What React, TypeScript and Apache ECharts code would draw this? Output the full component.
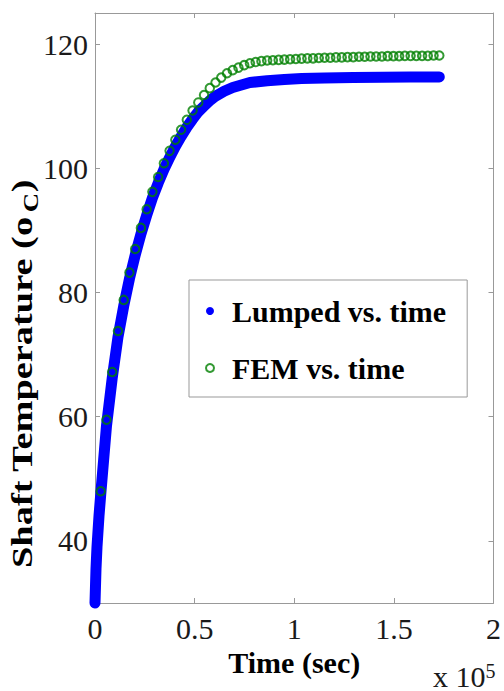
import React, { useEffect, useRef } from "react";
import * as echarts from "echarts";

// Lumped model (time in s, temperature in °C)
const lumpedTime = [0, 500, 1000, 2000, 2880, 4320, 5760, 8640, 11520, 14400, 17280, 20160, 23040, 25920, 28800, 31680, 34560, 37440, 40320, 43200, 46080, 48960, 51840, 54720, 57600, 60480, 64800, 69120, 73440, 77760, 86400, 95040, 103680, 115200, 129600, 144000, 158400, 172800];
const lumpedTemp = [30, 35.5, 39, 44, 47.5, 53, 58.5, 66.2, 72.8, 77.8, 82.2, 86.0, 89.4, 92.4, 95.2, 97.6, 99.8, 101.7, 103.5, 105.1, 106.6, 107.9, 109.1, 110.0, 110.9, 111.6, 112.4, 113.0, 113.4, 113.8, 114.1, 114.3, 114.45, 114.55, 114.6, 114.65, 114.7, 114.7];

// FEM results
const femTime = [2880, 5760, 8640, 11520, 14400, 17280, 20160, 23040, 25920, 28800, 31680, 34560, 37440, 40320, 43200, 46080, 48960, 51840, 54720, 57600, 60480, 63360, 66240, 69120, 72000, 74880, 77760, 80640, 83520, 86400, 89280, 92160, 95040, 97920, 100800, 103680, 106560, 109440, 112320, 115200, 118080, 120960, 123840, 126720, 129600, 132480, 135360, 138240, 141120, 144000, 146880, 149760, 152640, 155520, 158400, 161280, 164160, 167040, 169920, 172800];
const femTemp = [48.0, 59.5, 67.2, 73.8, 78.8, 83.2, 87.0, 90.4, 93.4, 96.2, 98.6, 100.8, 102.8, 104.6, 106.2, 107.8, 109.3, 110.6, 111.8, 112.9, 113.8, 114.6, 115.3, 115.8, 116.2, 116.6, 116.9, 117.1, 117.25, 117.35, 117.4, 117.45, 117.5, 117.55, 117.6, 117.65, 117.7, 117.7, 117.75, 117.8, 117.8, 117.85, 117.85, 117.9, 117.9, 117.95, 117.95, 118.0, 118.0, 118.0, 118.05, 118.05, 118.05, 118.1, 118.1, 118.1, 118.1, 118.1, 118.15, 118.15];

const yTickValues = [40, 60, 80, 100, 120];
const seriesNames = ["Lumped vs. time", "FEM vs. time"];

const FONT = '"Liberation Serif", "Times New Roman", serif';
const AXIS_GRAY = "#999";

export default function App() {
  const ref = useRef<HTMLDivElement>(null);

  useEffect(() => {
    if (!ref.current) return;
    const chart = echarts.init(ref.current, null, { renderer: "svg" });

    const lumpedData = lumpedTime.map((t, i) => [t, lumpedTemp[i]]);
    const femData = femTime.map((t, i) => [t, femTemp[i]]);

    const xCommon = {
      type: "value",
      min: 0,
      max: 200000,
      interval: 50000,
      splitLine: { show: false },
      axisLine: { show: true, onZero: false, lineStyle: { color: AXIS_GRAY, width: 1 } },
      axisTick: { show: true, inside: true, length: 5, lineStyle: { color: AXIS_GRAY } },
    };
    const yCommon = {
      type: "value",
      min: 30,
      max: 125,
      splitLine: { show: false },
      axisLine: { show: true, onZero: false, lineStyle: { color: AXIS_GRAY, width: 1 } },
      axisTick: { show: true, inside: true, length: 5, customValues: yTickValues, lineStyle: { color: AXIS_GRAY } },
    };

    const labelFont = { fontSize: 30, fontWeight: "bold", fontFamily: FONT, fill: "#000", verticalAlign: "middle", align: "left" };

    chart.setOption({
      animation: false,
      backgroundColor: "#fff",
      grid: { left: 95, right: 7, top: 13, bottom: 88, containLabel: false },
      xAxis: [
        {
          ...xCommon,
          position: "bottom",
          axisLabel: {
            formatter: (v: number) => String(v / 1e5),
            fontSize: 30,
            fontFamily: FONT,
            color: "#1a1a1a",
            margin: 10,
          },
          name: "Time (sec)",
          nameLocation: "middle",
          nameGap: 39,
          nameTextStyle: { fontSize: 30, fontWeight: "bold", fontFamily: FONT, color: "#000" },
        },
        { ...xCommon, position: "top", axisLabel: { show: false } },
      ],
      yAxis: [
        {
          ...yCommon,
          position: "left",
          axisLabel: {
            customValues: yTickValues,
            fontSize: 30,
            fontFamily: FONT,
            color: "#1a1a1a",
            margin: 7,
          },
        },
        { ...yCommon, position: "right", axisLabel: { show: false } },
      ],
      legend: {
        orient: "vertical",
        left: 189,
        top: 280,
        padding: [16, 21, 14, 16],
        itemWidth: 34,
        itemHeight: 8,
        itemGap: 27,
        borderColor: AXIS_GRAY,
        borderWidth: 1,
        backgroundColor: "#fff",
        textStyle: { fontSize: 30, fontWeight: "bold", fontFamily: FONT, color: "#000", lineHeight: 30 },
        data: [
          { name: seriesNames[0], icon: "circle", itemStyle: { color: "#0000ff" } },
          {
            name: seriesNames[1],
            icon: "circle",
            itemStyle: { color: "transparent", borderColor: "#008000", borderWidth: 2 },
          },
        ],
      },
      series: [
        {
          name: seriesNames[0],
          type: "line",
          data: lumpedData,
          showSymbol: false,
          symbol: "circle",
          clip: false,
          color: "#0000ff",
          itemStyle: { color: "#0000ff" },
          lineStyle: { color: "#0000ff", width: 11, cap: "round", join: "round" },
          z: 2,
        },
        {
          name: seriesNames[1],
          type: "scatter",
          data: femData,
          symbol: "circle",
          symbolSize: 8.5,
          clip: false,
          itemStyle: { color: "transparent", borderColor: "#008000", borderWidth: 2 },
          z: 3,
        },
      ],
      graphic: [
        {
          type: "group",
          x: 22,
          y: 568,
          rotation: Math.PI / 2,
          scaleX: 1.28,
          children: [
            { type: "text", x: 0, y: 0, style: { ...labelFont, text: "Shaft Temperature (o" } },
            { type: "text", x: 278, y: 9, style: { ...labelFont, fontSize: 21, text: "C" } },
            { type: "text", x: 293.5, y: 0, style: { ...labelFont, text: ")" } },
          ],
        },
        {
          type: "text",
          x: 433,
          y: 676,
          style: {
            text: "x 10{sup|5}",
            align: "left",
            verticalAlign: "middle",
            fontSize: 30,
            fontFamily: FONT,
            fill: "#1a1a1a",
            rich: {
              sup: {
                fontSize: 20,
                fontFamily: FONT,
                lineHeight: 20,
                verticalAlign: "top",
                padding: [0, 0, 28, 0],
              },
            },
          },
        },
      ],
    });

    return () => chart.dispose();
  }, []);

  return (
    <div
      ref={ref}
      style={{ position: "absolute", left: 0, top: 0, width: 504, height: 691 }}
    />
  );
}
